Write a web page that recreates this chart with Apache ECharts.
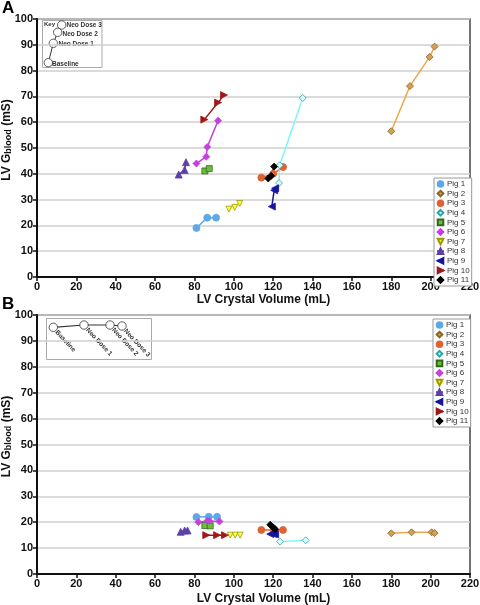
<!DOCTYPE html>
<html><head><meta charset="utf-8">
<script src="https://cdn.jsdelivr.net/npm/echarts@6/dist/echarts.min.js"></script>
<style>html,body{margin:0;padding:0;background:#fff}#c{width:480px;height:605px}</style>
</head><body><div id="c"></div>
<script>
// ---- Data ----
const pigNames = ['Pig 1','Pig 2','Pig 3','Pig 4','Pig 5','Pig 6','Pig 7','Pig 8','Pig 9','Pig 10','Pig 11'];
const xTicks = [0,20,40,60,80,100,120,140,160,180,200,220];
const yTicks = [0,10,20,30,40,50,60,70,80,90,100];

// Panel A: [LV crystal volume (mL), LV Gblood (mS)]
const pig1A  = [[81,19],[86.5,23],[91,23]];
const pig2A  = [[180,56.5],[189.5,74],[199.5,85.3],[202,89.3]];
const pig3A  = [[114,38.5],[120,40],[125,42.6]];
const pig4A  = [[123,36.4],[123.3,43.3],[135,69.4]];
const pig5A  = [[85.3,41.1],[87.5,42]];
const pig6A  = [[81,44],[86,46.6],[86.5,50.4],[92,60.6]];
const pig7A  = [[97.5,26.3],[100.5,27],[103,28.5]];
const pig8A  = [[72,39.7],[75,41.5],[75.7,44.5]];
const pig9A  = [[119.3,27.3],[120.5,33.6],[121,34.4]];
const pig10A = [[85,61],[92,67.6],[95,70.5]];
const pig11A = [[117.5,38.2],[119,39.2],[120.5,42.8]];

// Panel B
const pig1B  = [[81,22],[87.3,22.1],[91.5,22.1]];
const pig2B  = [[180,15.7],[190.3,16.1],[200.5,16.1],[202,15.8]];
const pig3B  = [[114,17],[120.3,17],[125,17]];
const pig4B  = [[123.5,12.5],[136.5,13]];
const pig5B  = [[85.3,18.7],[88,18.6]];
const pig6B  = [[82,20],[86.5,20.5],[87.5,20.5],[92.7,20.3]];
const pig7B  = [[98.2,15],[100.7,15],[103.2,15]];
const pig8B  = [[73,16.3],[75,16.8],[76.5,16.8]];
const pig9B  = [[118.5,15.4],[120,15.4],[121,15.3]];
const pig10B = [[86,15],[91.5,15],[95.5,15]];
const pig11B = [[118.5,19],[120,18],[121,17.3]];

const dataA = [pig1A,pig2A,pig3A,pig4A,pig5A,pig6A,pig7A,pig8A,pig9A,pig10A,pig11A];
const dataB = [pig1B,pig2B,pig3B,pig4B,pig5B,pig6B,pig7B,pig8B,pig9B,pig10B,pig11B];

// ---- Styles ----
const TRI_DOWN = 'path://M0,0L10,0L5,9Z';
const TRI_LEFT = 'path://M0,5L9,0L9,10Z';
const TRI_RIGHT = 'path://M0,0L9,5L0,10Z';
const styles = [
  {sym:'circle', size:7, fill:'#5DA8E6', edge:'#5DA8E6', line:'#5DA8E6'},
  {sym:'diamond', size:7, fill:'#D3A150', edge:'#8A6428', line:'#EDA64A'},
  {sym:'circle', size:7, fill:'#E06230', edge:'#E06230', line:'#E06230'},
  {sym:'diamond', size:7, fill:'#D8FFFF', edge:'#2EA3A8', line:'#80F5F5'},
  {sym:'rect', size:6, fill:'#6DBE3C', edge:'#2E6A1A', line:'#6DBE3C'},
  {sym:'diamond', size:7, fill:'#C540DD', edge:'#C540DD', line:'#C540DD'},
  {sym:TRI_DOWN, size:6, fill:'#FFFF3C', edge:'#9A9A10', line:'#FFFF3C'},
  {sym:'triangle', size:7, fill:'#5C40A8', edge:'#5C40A8', line:'#5C40A8'},
  {sym:TRI_LEFT, size:7, fill:'#1515A0', edge:'#1515A0', line:'#1515A0'},
  {sym:TRI_RIGHT, size:7, fill:'#A01818', edge:'#A01818', line:'#A01818'},
  {sym:'diamond', size:7, fill:'#000000', edge:'#000000', line:'#000000'}
];
const FONT = 'Liberation Sans, Arial, sans-serif';

function makeSeries(data, idx) {
  return data.map((d, i) => ({
    type:'line', name: pigNames[i], xAxisIndex: idx, yAxisIndex: idx,
    data: d, symbol: styles[i].sym, symbolSize: styles[i].size,
    showAllSymbol: true, animation:false, z: 3,
    itemStyle:{color: styles[i].fill, borderColor: styles[i].edge, borderWidth: 0.8},
    lineStyle:{color: styles[i].line, width: 1.5}
  }));
}

function xAx(gi, gap) {
  return {
    gridIndex: gi, type:'value', min:0, max:220, interval:20,
    name:'LV Crystal Volume (mL)', nameLocation:'middle', nameGap: gap, nameMoveOverlap:false,
    nameTextStyle:{fontFamily:FONT, fontWeight:'bold', fontSize:12, color:'#111', padding:[0,0,0,20]},
    axisLine:{show:true, onZero:false, lineStyle:{color:'#111', width:2}},
    axisTick:{show:true, length:4, lineStyle:{color:'#111', width:1.5}},
    axisLabel:{fontFamily:FONT, fontWeight:'bold', fontSize:11, color:'#111', margin:4},
    splitLine:{show:false}
  };
}
function yAx(gi) {
  return {
    gridIndex: gi, type:'value', min:0, max:100, interval:10,
    name:'LV G{sub|blood} (mS)', nameLocation:'middle', nameGap: 24, nameRotate: 90, nameMoveOverlap:false,
    nameTextStyle:{fontFamily:FONT, fontWeight:'bold', fontSize:12, color:'#111', padding:[0,0,0,16],
      rich:{sub:{fontFamily:FONT, fontWeight:'bold', fontSize:9, color:'#111', verticalAlign:'bottom', lineHeight:10}}},
    axisLine:{show:true, onZero:false, lineStyle:{color:'#111', width:2}},
    axisTick:{show:true, length:4, lineStyle:{color:'#111', width:1.5}},
    axisLabel:{fontFamily:FONT, fontWeight:'bold', fontSize:11, color:'#111', margin:4},
    splitLine:{show:true, lineStyle:{color:'#cfcfcf', width:1.5}}
  };
}

function legendAt(left, top) {
  return {
    left:left, top:top, orient:'vertical', itemWidth:7, itemHeight:7, itemGap:1.6,
    padding:[2,2,2,2], borderColor:'#999', borderWidth:1, backgroundColor:'#fff',
    textStyle:{fontFamily:FONT, fontSize:8, color:'#333', padding:[0,0,0,-2]},
    selectedMode:false,
    data: pigNames.map(n => ({name:n}))
  };
}

// Key insets (decoration)
function keyA() {
  const pts = [[48.3,62.7],[53.3,43.3],[57.7,32.3],[61.7,25]];
  const labels = ['Baseline','Neo Dose 1','Neo Dose 2','Neo Dose 3'];
  const lx = [[52,64],[58.5,44],[62.5,34.5],[66.5,25]];
  const els = [{type:'rect', shape:{x:42.5,y:20.5,width:59.5,height:47}, style:{fill:'#fff', stroke:'#aaa', lineWidth:1}}];
  els.push({type:'polyline', shape:{points:pts}, style:{stroke:'#333', lineWidth:1, fill:null}});
  pts.forEach(p => els.push({type:'circle', shape:{cx:p[0], cy:p[1], r:4.2}, style:{fill:'#fff', stroke:'#333', lineWidth:0.8}}));
  labels.forEach((t,i) => els.push({type:'text', x:lx[i][0], y:lx[i][1], style:{text:t, fontFamily:FONT, fontWeight:'bold', fontSize:6.5, fill:'#333', textAlign:'left', textVerticalAlign:'middle'}}));
  els.push({type:'text', x:44, y:24.5, style:{text:'Key', fontFamily:FONT, fontWeight:'bold', fontSize:6, fill:'#333', textAlign:'left', textVerticalAlign:'middle'}});
  return els;
}
function keyB() {
  const pts = [[53.3,327.3],[84,325],[110,325],[122,326]];
  const labels = ['Baseline','Neo Dose 1','Neo Dose 2','Neo Dose 3'];
  const els = [{type:'rect', shape:{x:46.5,y:318.5,width:105,height:41}, style:{fill:'#fff', stroke:'#aaa', lineWidth:1}}];
  els.push({type:'polyline', shape:{points:pts}, style:{stroke:'#333', lineWidth:1.2, fill:null}});
  pts.forEach(p => els.push({type:'circle', shape:{cx:p[0], cy:p[1], r:4.2}, style:{fill:'#fff', stroke:'#333', lineWidth:0.8}}));
  labels.forEach((t,i) => els.push({type:'text', x:pts[i][0]+3, y:pts[i][1]+4, rotation:-0.82, style:{text:t, fontFamily:FONT, fontWeight:'bold', fontSize:6.5, fill:'#333', textAlign:'left', textVerticalAlign:'middle'}}));
  return els;
}

const chart = echarts.init(document.getElementById('c'), null, {renderer:'canvas'});
chart.setOption({
  animation:false,
  backgroundColor:'#fff',
  grid:[
    {left:37, width:433, top:19, height:258, show:true, borderColor:'#444', borderWidth:1.5, backgroundColor:'transparent', containLabel:false, outerBoundsMode:'none'},
    {left:37, width:433, top:315, height:259, show:true, borderColor:'#444', borderWidth:1.5, backgroundColor:'transparent', containLabel:false, outerBoundsMode:'none'}
  ],
  xAxis:[xAx(0,17), xAx(1,19)],
  yAxis:[yAx(0), yAx(1)],
  legend:[legendAt(434,178), legendAt(433,319)],
  series: makeSeries(dataA,0).concat(makeSeries(dataB,1)),
  graphic:[
    {type:'text', left:2, top:0, style:{text:'A', fontFamily:FONT, fontWeight:'bold', fontSize:17, fill:'#000'}},
    {type:'text', left:2, top:296, style:{text:'B', fontFamily:FONT, fontWeight:'bold', fontSize:17, fill:'#000'}},
    {type:'group', children: keyA()},
    {type:'group', children: keyB()}
  ]
});
</script></body></html>
